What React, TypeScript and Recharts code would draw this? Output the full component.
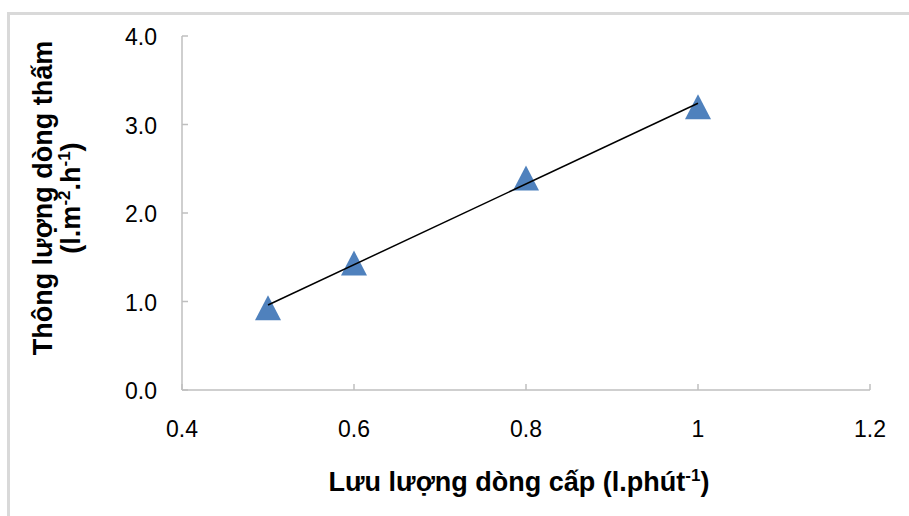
import { ScatterChart, Scatter, XAxis, YAxis, Label } from "recharts";

// feed flow rate (l/min) vs permeate flux (l/m2/h)
const flowRate = [0.5, 0.6, 0.8, 1.0];
const permeateFlux = [0.93, 1.435, 2.395, 3.2];

// linear trend line end points
const trendX = [0.5, 1.0];
const trendY = [0.96, 3.24];

const xTicks = [0.4, 0.6, 0.8, 1, 1.2];
const yTicks = [0, 1, 2, 3, 4];

const FONT = "'Liberation Sans', Arial, sans-serif";
const AXIS = "#bfbfbf";

const points = flowRate.map((x, i) => ({ x, y: permeateFlux[i] }));
const trend = trendX.map((x, i) => ({ x, y: trendY[i] }));

function Triangle(props: any) {
  const { cx, cy } = props;
  if (cx == null || cy == null) return <g />;
  return (
    <polygon
      points={`${cx},${cy - 12.5} ${cx + 13},${cy + 12.5} ${cx - 13},${cy + 12.5}`}
      fill="#4f81bd"
    />
  );
}

function XTick(props: any) {
  const { x, y, payload } = props;
  return (
    <g>
      <line x1={x} y1={y} x2={x} y2={y - 6} stroke={AXIS} strokeWidth={1.5} />
      <text x={x} y={y + 47} textAnchor="middle" fontSize={23} fontFamily={FONT} fill="#000">
        {String(payload.value)}
      </text>
    </g>
  );
}

function YTick(props: any) {
  const { x, y, payload } = props;
  return (
    <g>
      <line x1={x} y1={y} x2={x + 6} y2={y} stroke={AXIS} strokeWidth={1.5} />
      <text x={x - 25} y={y + 9} textAnchor="end" fontSize={23} fontFamily={FONT} fill="#000">
        {Number(payload.value).toFixed(1)}
      </text>
    </g>
  );
}

function YTitle() {
  return (
    <g fontFamily={FONT} fontWeight="bold" fontSize={27} fill="#000">
      <text transform="translate(52,198) rotate(-90)" textAnchor="middle">
        Thông lượng dòng thấm
      </text>
      <text transform="translate(80,198) rotate(-90)" textAnchor="middle">
        (l.m<tspan dy={-10} fontSize={17}>-2</tspan>
        <tspan dy={10}>.h</tspan>
        <tspan dy={-10} fontSize={17}>-1</tspan>
        <tspan dy={10}>)</tspan>
      </text>
    </g>
  );
}

function XTitle() {
  return (
    <text x={519} y={491} textAnchor="middle" fontFamily={FONT} fontWeight="bold" fontSize={27} fill="#000">
      Lưu lượng dòng cấp (l.phút<tspan dy={-10} fontSize={17}>-1</tspan>
      <tspan dy={10}>)</tspan>
    </text>
  );
}

export default function App() {
  return (
    <div style={{ position: "relative", width: 909, height: 516, overflow: "hidden" }}>
      <style>{`body{margin:0}`}</style>
      <div
        style={{
          position: "absolute",
          left: 7,
          top: 12,
          width: 920,
          height: 520,
          borderTop: "3px solid #d9d9d9",
          borderLeft: "3px solid #d9d9d9",
        }}
      />
      <div style={{ position: "absolute", left: 0, top: 0 }}>
        <ScatterChart width={909} height={516} margin={{ top: 36, right: 39, bottom: 0, left: 0 }}>
          <XAxis
            type="number"
            dataKey="x"
            domain={[0.4, 1.2]}
            ticks={xTicks}
            height={126}
            tickSize={0}
            tickMargin={0}
            tickLine={false}
            axisLine={{ stroke: AXIS, strokeWidth: 1.5 }}
            tick={XTick}
            interval={0}
          >
            <Label content={XTitle} />
          </XAxis>
          <YAxis
            type="number"
            dataKey="y"
            domain={[0, 4]}
            ticks={yTicks}
            width={182}
            tickSize={0}
            tickMargin={0}
            tickLine={false}
            axisLine={{ stroke: AXIS, strokeWidth: 1.5 }}
            tick={YTick}
            interval={0}
          >
            <Label content={YTitle} />
          </YAxis>
          <Scatter data={points} shape={Triangle} isAnimationActive={false} />
          <Scatter
            data={trend}
            line={{ stroke: "#000", strokeWidth: 1.5 }}
            shape={() => <g />}
            isAnimationActive={false}
          />
        </ScatterChart>
      </div>
    </div>
  );
}
